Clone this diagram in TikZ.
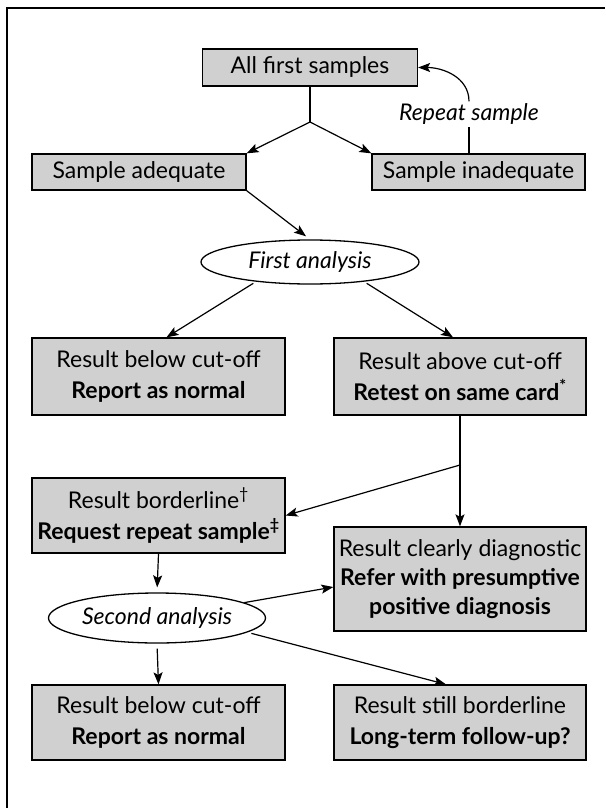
\documentclass[tikz,border=0pt]{standalone}
\usepackage{fontspec}
\setmainfont{Lato}
\usetikzlibrary{arrows.meta,shapes.geometric}
\definecolor{boxgray}{RGB}{208,208,208}
\begin{document}
\begin{tikzpicture}[x=1pt,y=-1pt,
  box/.style={draw=black, line width=1.3pt, fill=boxgray, inner sep=0pt, align=center,
    font=\fontsize{23}{31}\selectfont},
  oval/.style={ellipse, draw=black, line width=1.3pt, fill=white, inner sep=0pt,
    font=\fontsize{23}{31}\selectfont\itshape},
  lbl/.style={inner sep=2pt, font=\fontsize{23}{31}\selectfont\itshape},
  arr/.style={-{Stealth[length=12pt,width=9pt,inset=2.5pt]}, line width=1.2pt},
  ln/.style={line width=1.2pt}]
\useasboundingbox (0,0) rectangle (605,808);
\draw[line width=2pt] (7,808) -- (7,8) -- (605,8);

\node[box, minimum width=215pt, minimum height=37pt] (all) at (310,67.5) {All first samples};
\node[box, minimum width=214pt, minimum height=36pt] (adeq) at (139,172) {Sample adequate};
\node[box, minimum width=213pt, minimum height=36pt] (inad) at (478.5,172) {Sample inadequate};
\node[lbl] (rep) at (469,114) {Repeat sample};
\node[oval, minimum width=218pt, minimum height=44pt] (fa) at (310,262) {First analysis};
\node[box, minimum width=253pt, minimum height=77pt] (below1) at (158.5,376.5)
  {Result below cut-off\\\textbf{Report as normal}};
\node[box, minimum width=252pt, minimum height=77pt] (above) at (460,376.5)
  {Result above cut-off\\\textbf{Retest on same card\textsuperscript{*}}};
\node[box, minimum width=253pt, minimum height=75pt] (border) at (158.5,515.5)
  {Result borderline\textsuperscript{†}\\\textbf{Request repeat sample\textsuperscript{‡}}};
\node[box, minimum width=252pt, minimum height=104pt, font=\fontsize{23}{29}\selectfont] (diag) at (460,579)
  {Result clearly diagnostic\\\textbf{Refer with presumptive}\\\textbf{positive diagnosis}};
\node[oval, minimum width=217pt, minimum height=50pt] (sa) at (157,618) {Second analysis};
\node[box, minimum width=253pt, minimum height=75pt] (below2) at (158.5,722.5)
  {Result below cut-off\\\textbf{Report as normal}};
\node[box, minimum width=252pt, minimum height=75pt] (still) at (460,722.5)
  {Result still borderline\\\textbf{Long-term follow-up?}};

\coordinate (split) at (310,122);
\draw[ln] (all.south) -- (split);
\draw[arr] (split) -- (adeq.north east);
\draw[arr] (split) -- (inad.north west);
\draw[ln] (rep.south |- inad.north) -- (rep.south);
\draw[arr] (rep.north) .. controls +(0,-24) and +(25,0) .. (all.east);

\draw[arr, shorten >=5pt] (adeq.south east) -- (fa.north);
\draw[arr, shorten <=3pt] (fa.200) -- ([xshift=8pt]below1.north);
\draw[arr, shorten <=3pt] (fa.-20) -- ([xshift=-7pt]above.north);

\coordinate (j) at (460,465);
\draw[ln] (above.south) -- (j);
\draw[arr] (j) -- (diag.north);
\draw[arr] (j) -- (border.east);

\draw[arr, shorten >=5pt] (border.south) -- (sa.north);
\draw[arr] (sa.10) -- ([yshift=-8pt]diag.west);
\draw[arr, shorten <=4pt] (sa.-9) -- ([xshift=-14pt]still.north);
\draw[arr, shorten <=5pt] (sa.south) -- (below2.north);
\end{tikzpicture}
\end{document}
